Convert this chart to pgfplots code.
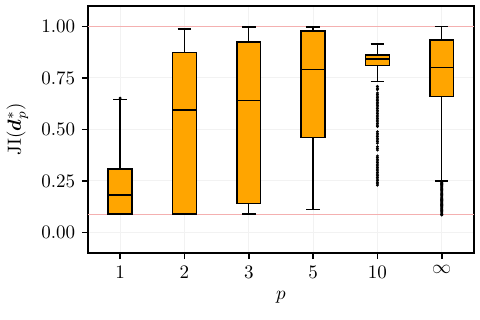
\documentclass[border=0pt]{standalone}
\usepackage{amsmath}
\usepackage{bm}
\usepackage{pgfplots}
\pgfplotsset{compat=1.18}
\usepgfplotslibrary{statistics}
\definecolor{boxorange}{HTML}{FFA500}
\definecolor{reflinecol}{HTML}{F4B0B0}
\begin{document}
\begin{tikzpicture}
\begin{axis}[
  name=ax,
  scale only axis,
  width=202.6pt, height=129.7pt,
  xmin=-0.5, xmax=5.5,
  ymin=-0.1, ymax=1.1,
  xtick={0,1,2,3,4,5},
  xticklabels={$1$,$2$,$3$,$5$,$10$,$\infty$},
  ytick={0,0.25,0.5,0.75,1},
  yticklabel style={/pgf/number format/.cd,fixed,fixed zerofill,precision=2},
  tick align=outside,
  major tick length=3.2pt,
  xtick pos=bottom, ytick pos=left,
  tick style={black, line width=0.8pt},
  axis line style={line width=0.9pt},
  grid=major,
  grid style={gray!10, line width=0.5pt},
  xlabel={$p$},
  ylabel={$\mathrm{JI}(\boldsymbol{d}_p^*)$},
  every tick label/.append style={font=\normalsize},
  boxplot/draw direction=y,
  boxplot/every median/.style={black, line width=0.8pt},
  boxplot/every whisker/.style={black, line width=0.7pt},
  boxplot/every box/.style={draw=black, fill=boxorange, line width=0.8pt},
  clip=false,
]
\addplot[reflinecol, line width=0.6pt] coordinates {(-0.5,1.0) (5.5,1.0)};
\addplot[reflinecol, line width=0.6pt] coordinates {(-0.5,0.088) (5.5,0.088)};

% p = 1
\addplot[boxplot prepared={draw position=0, box extend=0.37, whisker extend=0.21,
  lower whisker=0.088, lower quartile=0.088, median=0.182, upper quartile=0.307, upper whisker=0.644},
  mark=*, mark size=0.55pt, mark options={black, fill=black}]
  table[row sep=\\, y index=0] {y\\ 0.652\\};

% p = 2
\addplot[boxplot prepared={draw position=1, box extend=0.37, whisker extend=0.21,
  lower whisker=0.088, lower quartile=0.088, median=0.594, upper quartile=0.873, upper whisker=0.987}]
  coordinates {};

% p = 3
\addplot[boxplot prepared={draw position=2, box extend=0.37, whisker extend=0.21,
  lower whisker=0.089, lower quartile=0.141, median=0.641, upper quartile=0.925, upper whisker=0.998}]
  coordinates {};

% p = 5
\addplot[boxplot prepared={draw position=3, box extend=0.37, whisker extend=0.21,
  lower whisker=0.111, lower quartile=0.460, median=0.790, upper quartile=0.977, upper whisker=0.998}]
  coordinates {};

% p = 10
\addplot[boxplot prepared={draw position=4, box extend=0.37, whisker extend=0.21,
  lower whisker=0.732, lower quartile=0.810, median=0.842, upper quartile=0.862, upper whisker=0.915},
  mark=*, mark size=0.55pt, mark options={black, fill=black}]
  table[row sep=\\, y index=0] {y\\
  0.709\\ 0.700\\ 0.693\\ 0.677\\ 0.670\\ 0.662\\ 0.655\\ 0.647\\ 0.640\\ 0.632\\
  0.624\\ 0.617\\ 0.609\\ 0.601\\ 0.593\\ 0.585\\ 0.577\\ 0.569\\ 0.561\\ 0.553\\
  0.545\\ 0.537\\ 0.529\\ 0.521\\ 0.514\\ 0.489\\ 0.481\\ 0.473\\ 0.465\\ 0.457\\
  0.449\\ 0.441\\ 0.433\\ 0.416\\ 0.408\\ 0.400\\ 0.371\\ 0.363\\ 0.355\\ 0.347\\
  0.339\\ 0.331\\ 0.323\\ 0.315\\ 0.307\\ 0.299\\ 0.291\\ 0.283\\ 0.275\\ 0.267\\
  0.259\\ 0.251\\ 0.243\\ 0.236\\ 0.229\\};

% p = infinity
\addplot[boxplot prepared={draw position=5, box extend=0.37, whisker extend=0.21,
  lower whisker=0.250, lower quartile=0.659, median=0.801, upper quartile=0.935, upper whisker=1.000},
  mark=*, mark size=0.6pt, mark options={black, fill=black}]
  table[row sep=\\, y index=0] {y\\
  0.244\\ 0.238\\ 0.232\\ 0.226\\ 0.220\\ 0.214\\ 0.208\\ 0.202\\ 0.196\\ 0.190\\
  0.184\\ 0.178\\ 0.172\\ 0.166\\ 0.160\\ 0.154\\ 0.148\\ 0.142\\ 0.136\\ 0.130\\
  0.124\\ 0.118\\ 0.112\\ 0.106\\ 0.100\\ 0.094\\ 0.088\\ 0.085\\};
\end{axis}
\pgfresetboundingbox
\path (ax.south west) ++(-46.2pt,-35.2pt) coordinate (bl);
\path (ax.north east) ++(3.2pt,3.1pt) coordinate (tr);
\path (bl) rectangle (tr);
\end{tikzpicture}
\end{document}
